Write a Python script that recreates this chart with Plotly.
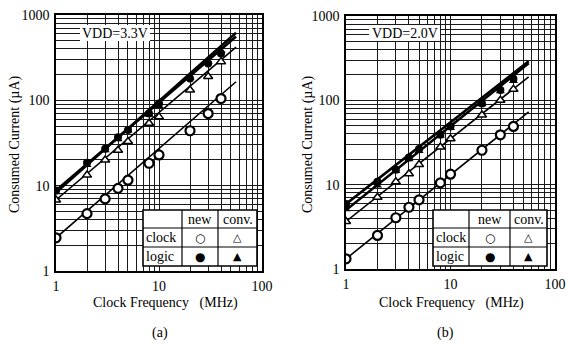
import plotly.graph_objects as go

# ---------------- data ----------------
freq = [1, 2, 3, 4, 5, 8, 10, 20, 30, 40]
fit_x = [1, 56]

# Panel (a) VDD = 3.3 V
a_clock_new = [2.45, 4.7, 7.0, 9.3, 11.6, 18.3, 22.9, 44, 70, 105]
a_clock_conv = [6.8, 13.3, 20, 26, 33, 54, 64, 132, 190, 284]
a_logic_new = [8.8, 18.6, 27, 37, 45, 70, 92, 180, 270, 355]
a_logic_conv = [8.4, 17.5, 26, 35, 44, 68, 86, 185, 285, 380]
a_fit_clock_new = [2.45, 165]
a_fit_clock_conv = [6.8, 420]
a_fit_logic_new = [8.8, 560]
a_fit_logic_conv = [8.3, 620]

# Panel (b) VDD = 2.0 V
b_clock_new = [1.32, 2.5, 4.05, 5.4, 6.6, 10.5, 13.3, 25.6, 39, 49]
b_clock_conv = [3.66, 7.1, 10.8, 13.5, 17.3, 28, 35, 67, 100, 135]
b_logic_new = [5.9, 10.8, 15, 21, 26.5, 39, 49, 92, 133, 180]
b_logic_conv = [5.1, 9.8, 14.5, 20, 25, 38, 47, 90, 128, 170]
b_fit_clock_new = [1.32, 73]
b_fit_clock_conv = [3.66, 190]
b_fit_logic_new = [5.9, 290]
b_fit_logic_conv = [5.0, 275]

x_grid = [m * 10 ** d for d in range(0, 2) for m in range(1, 10)] + [100]
y_grid = [m * 10 ** d for d in range(0, 3) for m in range(1, 10)] + [1000]
x_labels = {1: "1", 10: "10", 100: "100"}
y_labels = {1: "1", 10: "10", 100: "100", 1000: "1000"}

W, H = 570, 349
FONT = "Liberation Serif"

fig = go.Figure()

def add_panel(xa, ya, cn, cc, ln, lc, fcn, fcc, fln, flc):
    for fy, w in [(fcn, 1.6), (fcc, 1.6), (fln, 2.6), (flc, 2.6)]:
        fig.add_trace(go.Scatter(x=fit_x, y=fy, mode="lines", xaxis=xa, yaxis=ya,
                                 line=dict(color="black", width=w), showlegend=False,
                                 hoverinfo="skip"))
    fig.add_trace(go.Scatter(x=freq, y=lc, mode="markers", xaxis=xa, yaxis=ya,
                             marker=dict(symbol="triangle-up", size=8, color="black"),
                             showlegend=False))
    fig.add_trace(go.Scatter(x=freq, y=ln, mode="markers", xaxis=xa, yaxis=ya,
                             marker=dict(symbol="circle", size=8, color="black"),
                             showlegend=False))
    fig.add_trace(go.Scatter(x=freq, y=cc, mode="markers", xaxis=xa, yaxis=ya,
                             marker=dict(symbol="triangle-up", size=8, color="white",
                                         line=dict(color="black", width=1.5)),
                             showlegend=False))
    fig.add_trace(go.Scatter(x=freq, y=cn, mode="markers", xaxis=xa, yaxis=ya,
                             marker=dict(symbol="circle", size=9, color="white",
                                         line=dict(color="black", width=2.2)),
                             showlegend=False))

add_panel("x", "y", a_clock_new, a_clock_conv, a_logic_new, a_logic_conv,
          a_fit_clock_new, a_fit_clock_conv, a_fit_logic_new, a_fit_logic_conv)
add_panel("x2", "y2", b_clock_new, b_clock_conv, b_logic_new, b_logic_conv,
          b_fit_clock_new, b_fit_clock_conv, b_fit_logic_new, b_fit_logic_conv)

def px_x(p):
    return p / W

def px_y(p):
    return 1 - p / H

panels = {
    "a": dict(x0=56, x1=262, y0=15, y1=271),
    "b": dict(x0=346, x1=555, y0=16, y1=269),
}

axis_common = dict(
    type="log", showline=True, linecolor="black", linewidth=1.6, mirror=True,
    showgrid=True, gridcolor="#1a1a1a", gridwidth=0.9, ticks="", zeroline=False,
    automargin=False,
    tickfont=dict(family=FONT, size=14, color="black"),
)

def xaxis_cfg(p, anchor):
    return dict(axis_common, domain=[px_x(p["x0"]), px_x(p["x1"])], range=[0, 2],
                tickmode="array", tickvals=x_grid,
                ticktext=[x_labels.get(v, "") for v in x_grid], anchor=anchor, ticklabelstandoff=1)

def yaxis_cfg(p, anchor):
    return dict(axis_common, domain=[px_y(p["y1"]), px_y(p["y0"])], range=[0, 3],
                tickmode="array", tickvals=y_grid,
                ticktext=[y_labels.get(v, "") for v in y_grid], anchor=anchor, ticklabelstandoff=2)

fig.update_layout(
    width=W, height=H, margin=dict(l=0, r=0, t=0, b=0, autoexpand=False),
    paper_bgcolor="white", plot_bgcolor="white",
    xaxis=xaxis_cfg(panels["a"], "y"), yaxis=yaxis_cfg(panels["a"], "x"),
    xaxis2=xaxis_cfg(panels["b"], "y2"), yaxis2=yaxis_cfg(panels["b"], "x2"),
    font=dict(family=FONT, color="black"),
)

ann = []
shapes = []

def add_text(x, y, text, size=14, font=FONT, xanchor="center", **kw):
    ann.append(dict(x=px_x(x), y=px_y(y), xref="paper", yref="paper", text=text,
                    xanchor=xanchor, yanchor="middle",
                    showarrow=False, font=dict(family=font, size=size, color="black"), **kw))

# axis titles and captions
add_text(15, 145, "Consumed Current (µA)", size=14, textangle=-90)
add_text(165, 303, "Clock Frequency   (MHz)", size=14)
add_text(160, 333, "(a)", size=14)
add_text(308, 145, "Consumed Current (µA)", size=14, textangle=-90)
add_text(451, 303, "Clock Frequency   (MHz)", size=14)
add_text(445, 333, "(b)", size=14)

# VDD labels
for x0, x1, label in [(80, 150, "VDD=3.3V"), (369, 440, "VDD=2.0V")]:
    shapes.append(dict(type="rect", xref="paper", yref="paper", x0=px_x(x0), x1=px_x(x1),
                       y0=px_y(41), y1=px_y(25), fillcolor="white", line=dict(width=0), layer="above"))
    add_text((x0 + x1) / 2, 33, label, size=14)

# legend tables
def table(x0, c1, c2, x1, y0, r1, r2, y1):
    shapes.append(dict(type="rect", xref="paper", yref="paper", x0=px_x(x0), x1=px_x(x1),
                       y0=px_y(y1), y1=px_y(y0), fillcolor="white",
                       line=dict(color="black", width=1.6), layer="above"))
    for cx in (c1, c2):
        shapes.append(dict(type="line", xref="paper", yref="paper", x0=px_x(cx), x1=px_x(cx),
                           y0=px_y(y1), y1=px_y(y0), line=dict(color="black", width=1.2), layer="above"))
    for ry in (r1, r2):
        shapes.append(dict(type="line", xref="paper", yref="paper", x0=px_x(x0), x1=px_x(x1),
                           y0=px_y(ry), y1=px_y(ry), line=dict(color="black", width=1.2), layer="above"))
    hy = (y0 + r1) / 2
    ry1 = (r1 + r2) / 2
    ry2 = (r2 + y1) / 2
    add_text((c1 + c2) / 2, hy, "new", size=14)
    add_text((c2 + x1) / 2, hy, "conv.", size=14)
    add_text(x0 + 1, ry1, "clock", size=14, xanchor="left")
    add_text(x0 + 1, ry2, "logic", size=14, xanchor="left")
    add_text((c1 + c2) / 2, ry1, "<b>○</b>", size=12, font="DejaVu Sans")
    add_text((c1 + c2) / 2, ry2, "●", size=12, font="DejaVu Sans")
    add_text((c2 + x1) / 2, ry1, "<b>△</b>", size=11, font="DejaVu Sans")
    add_text((c2 + x1) / 2, ry2, "▲", size=11, font="DejaVu Sans")

table(143, 182, 218, 257, 210, 228, 247, 266)
table(433, 469, 510, 547, 210, 228, 247, 266)

fig.update_layout(annotations=ann, shapes=shapes)
fig.write_html("out.html", config={"displayModeBar": False},
               post_script="document.body.style.margin='0';")
